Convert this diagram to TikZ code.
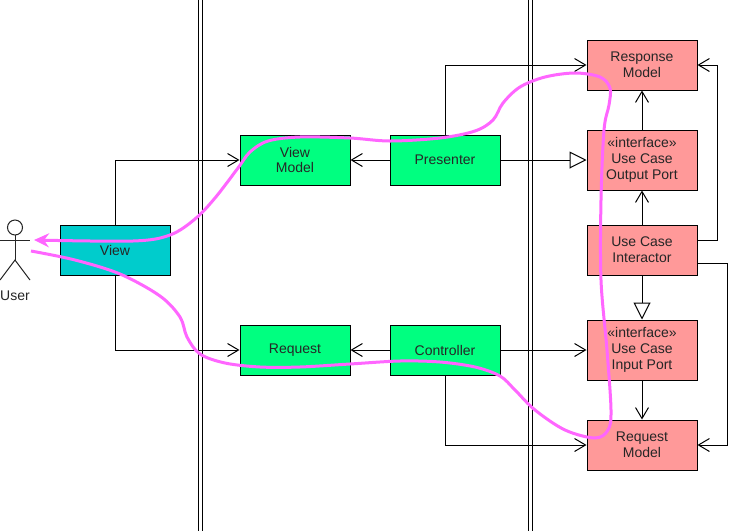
\documentclass[tikz,border=0pt]{standalone}
\usepackage{fontspec}
\setmainfont{Liberation Sans}
\usetikzlibrary{arrows.meta}
\definecolor{cview}{HTML}{00CCCC}
\definecolor{cgreen}{HTML}{00FF80}
\definecolor{cred}{HTML}{FF9999}
\definecolor{cpink}{HTML}{FF66FF}
\definecolor{ctext}{HTML}{262626}
\begin{document}
\begin{tikzpicture}[x=1pt,y=-1pt,
  box/.style={draw=black, line width=1pt, minimum width=110pt, minimum height=50pt,
    inner sep=0pt, align=center, font=\fontsize{14}{15.7}\selectfont, text=ctext},
  tallbox/.style={box, minimum height=60pt},
  conn/.style={draw=black, line width=1pt},
  oarr/.style={conn, -{Straight Barb[length=11pt,width=13pt]}},
  tarr/.style={conn, -{Triangle[fill=white,length=17pt,width=17pt]}},
  flow/.style={draw=cpink, line width=3pt, -{Stealth[length=15pt,width=14pt,inset=5pt]}},
  sep/.style={draw=black, line width=1pt},
  actor/.style={draw=ctext, line width=1pt}
]
\fill[white] (0,0) rectangle (742,531);
\useasboundingbox (0,0) rectangle (742,531);

% layer separators
\draw[sep] (198,0) -- (198,531);
\draw[sep] (202,0) -- (202,531);
\draw[sep] (528,0) -- (528,531);
\draw[sep] (532,0) -- (532,531);

% actor
\draw[actor] (15,227.5) circle (7.5);
\draw[actor] (15,235) -- (15,260);
\draw[actor] (0,240) -- (30,240);
\draw[actor] (0,280) -- (15,260) -- (30,280);
\node[font=\fontsize{14}{15.7}\selectfont, text=ctext] (user) at (15,296) {User};

% boxes
\node[box, fill=cview] (view) at (115,250) {View};
\node[box, fill=cgreen] (vm) at (295,160) {View\\Model};
\node[box, fill=cgreen] (pres) at (445,160) {Presenter};
\node[box, fill=cgreen] (req) at (295,350) {Request};
\node[box, fill=cgreen] (ctrl) at (445,350) {Controller};
\node[box, fill=cred] (resp) at (642,65) {Response\\Model};
\node[tallbox, fill=cred] (outp) at (642,160) {«interface»\\Use Case\\Output Port};
\node[box, fill=cred] (inter) at (642,250) {Use Case\\Interactor};
\node[tallbox, fill=cred] (inp) at (642,350) {«interface»\\Use Case\\Input Port};
\node[box, fill=cred] (reqm) at (642,445) {Request\\Model};

% connectors
\draw[oarr] (view.north) |- (vm.west);
\draw[oarr] (view.south) |- (req.west);
\draw[oarr] (pres.west) -- (vm.east);
\draw[tarr] (pres.east) -- (outp.west);
\draw[oarr] (pres.north) |- (resp.west);
\draw[oarr] (ctrl.west) -- (req.east);
\draw[oarr] (ctrl.east) -- (inp.west);
\draw[oarr] (ctrl.south) |- (reqm.west);
\draw[oarr] (inter.north) -- (outp.south);
\draw[oarr] (outp.north) -- (resp.south);
\draw[tarr] (inter.south) -- (inp.north);
\draw[oarr] (inp.south) -- (reqm.north);
\draw[oarr] ([yshift=10pt]inter.east) -| ([xshift=20pt]resp.east) -- (resp.east);
\draw[oarr] ([yshift=-13pt]inter.east) -| ([xshift=30pt]reqm.east) -- (reqm.east);

% data flow
\draw[flow] plot[smooth, tension=0.55] coordinates {
 (31,251) (75,260) (120,274) (160,296) (180,317) (187,337) (200,354) (225,363)
 (260,367) (300,367) (350,364) (400,361) (440,362) (475,367) (500,376) (515,390)
 (535,410) (565,430) (595,438) (608,430) (611,410) (607,350) (601,280) (601,200)
 (604,130) (609,105) (610,88) (600,77) (575,73) (545,77) (520,87) (503,103)
 (493,120) (475,131) (440,138) (390,141) (350,138) (300,137) (268,141) (250,152)
 (238,168) (215,198) (195,219) (170,235) (133,241) (34,240)};
\end{tikzpicture}
\end{document}
